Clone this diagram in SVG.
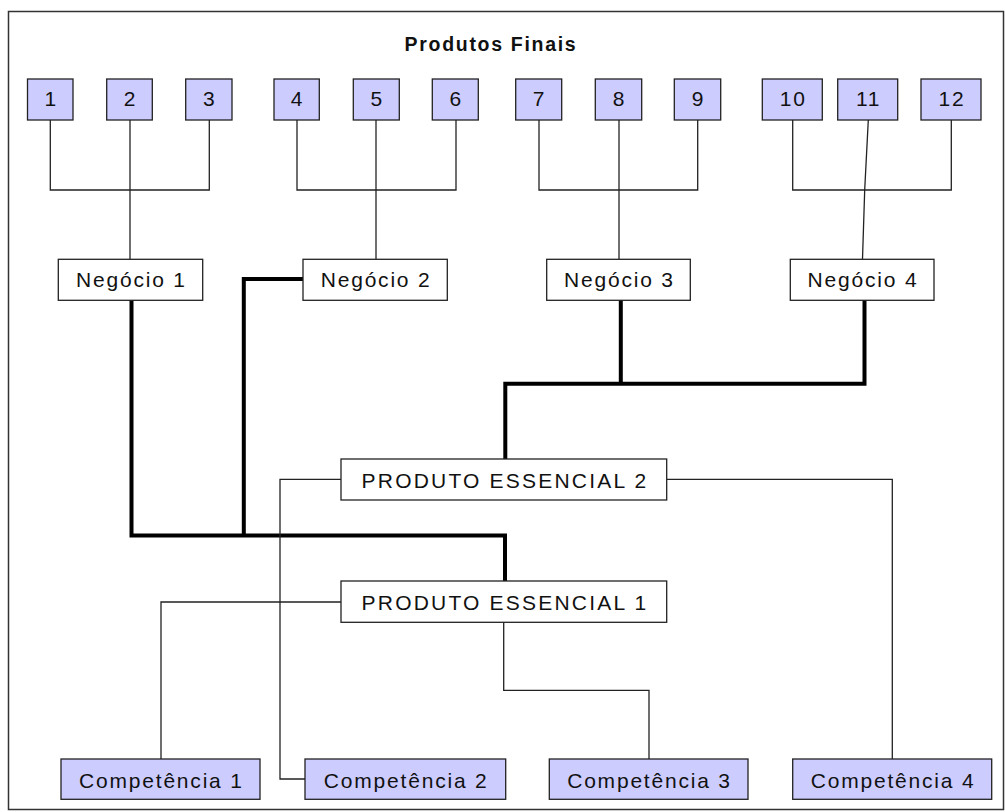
<svg xmlns="http://www.w3.org/2000/svg" width="1005" height="812" viewBox="0 0 1005 812">
  <style>
    .frame { fill: #ffffff; stroke: #333333; stroke-width: 1.5; }
    .prod rect { fill: #ccccff; stroke: #222222; stroke-width: 1.3; }
    .white rect { fill: #ffffff; stroke: #222222; stroke-width: 1.3; }
    .comp rect { fill: #ccccff; stroke: #222222; stroke-width: 1.3; }
    text { font-family: "Liberation Sans", Arial, sans-serif; font-size: 21px; fill: #111111; text-anchor: middle; letter-spacing: 1.8px; }
    .title { font-weight: bold; font-size: 19.5px; letter-spacing: 1.7px; }
    .core text { letter-spacing: 2.2px; }
    .thin { fill: none; stroke: #222222; stroke-width: 1.3; }
    .thick { fill: none; stroke: #000000; stroke-width: 4; stroke-linejoin: miter; }
  </style>

  <rect class="frame" x="8.5" y="11.5" width="995" height="798"/>

  <text class="title" x="491" y="51">Produtos Finais</text>

  <!-- connectors -->
  <g id="connectors">
    <!-- final products to businesses -->
    <polyline class="thin" points="50.3,120 50.3,190 209.3,190 209.3,120"/>
    <line class="thin" x1="130" y1="120" x2="130" y2="259"/>
    <polyline class="thin" points="297,120 297,190 456,190 456,120"/>
    <line class="thin" x1="376" y1="120" x2="376" y2="259"/>
    <polyline class="thin" points="539,120 539,190 697.7,190 697.7,120"/>
    <line class="thin" x1="619" y1="120" x2="619" y2="259"/>
    <polyline class="thin" points="792.7,120 792.7,190 951.3,190 951.3,120"/>
    <polyline class="thin" points="868.3,120 864.7,190 862.5,259"/>

    <!-- businesses to core products -->
    <polyline class="thick" points="131.5,300 131.5,535.5 505,535.5 505,581"/>
    <polyline class="thick" points="303,279 243.8,279 243.8,535.5"/>
    <polyline class="thick" points="620.8,300 620.8,383.7"/>
    <polyline class="thick" points="864.5,300 864.5,383.7 505.3,383.7 505.3,459"/>

    <!-- core products to competences -->
    <polyline class="thin" points="341,479.3 280,479.3 280,779 305,779"/>
    <polyline class="thin" points="666.7,479.3 892.3,479.3 892.3,759"/>
    <polyline class="thin" points="341,602 161,602 161,759"/>
    <polyline class="thin" points="503.7,622.3 503.7,690.3 649,690.3 649,759"/>
  </g>

  <!-- final products -->
  <g id="p1" class="prod"><rect x="27.5" y="79" width="45.5" height="41"/><text x="51.2" y="106">1</text></g>
  <g id="p2" class="prod"><rect x="106.7" y="79" width="45.6" height="41"/><text x="130.4" y="106">2</text></g>
  <g id="p3" class="prod"><rect x="185.7" y="79" width="46.3" height="41"/><text x="209.7" y="106">3</text></g>
  <g id="p4" class="prod"><rect x="274" y="79" width="45.3" height="41"/><text x="297.5" y="106">4</text></g>
  <g id="p5" class="prod"><rect x="353.3" y="79" width="46" height="41"/><text x="377.2" y="106">5</text></g>
  <g id="p6" class="prod"><rect x="432.3" y="79" width="46" height="41"/><text x="456.2" y="106">6</text></g>
  <g id="p7" class="prod"><rect x="515.7" y="79" width="46" height="41"/><text x="539.6" y="106">7</text></g>
  <g id="p8" class="prod"><rect x="595.3" y="79" width="46.4" height="41"/><text x="619.4" y="106">8</text></g>
  <g id="p9" class="prod"><rect x="674.3" y="79" width="46.4" height="41"/><text x="698.4" y="106">9</text></g>
  <g id="p10" class="prod"><rect x="762.3" y="79" width="60" height="41"/><text x="793.2" y="106">10</text></g>
  <g id="p11" class="prod"><rect x="837.7" y="79" width="60" height="41"/><text x="868.6" y="106">11</text></g>
  <g id="p12" class="prod"><rect x="921" y="79" width="60" height="41"/><text x="951.9" y="106">12</text></g>

  <!-- businesses -->
  <g id="negocio1" class="white"><rect x="58.3" y="259.3" width="144.4" height="41"/><text x="131.4" y="287">Negócio 1</text></g>
  <g id="negocio2" class="white"><rect x="303" y="259.3" width="144.3" height="41"/><text x="376.1" y="287">Negócio 2</text></g>
  <g id="negocio3" class="white"><rect x="546.7" y="259.3" width="143.6" height="41"/><text x="619.4" y="287">Negócio 3</text></g>
  <g id="negocio4" class="white"><rect x="790.3" y="259.3" width="143.7" height="41"/><text x="863" y="287">Negócio 4</text></g>

  <!-- core products -->
  <g id="pe2" class="white core"><rect x="341" y="459" width="325.7" height="41"/><text x="505" y="487.5">PRODUTO ESSENCIAL 2</text></g>
  <g id="pe1" class="white core"><rect x="341" y="581" width="325.7" height="41.3"/><text x="505" y="609.5">PRODUTO ESSENCIAL 1</text></g>

  <!-- competences -->
  <g id="comp1" class="comp"><rect x="61" y="759" width="199" height="40.3"/><text x="161.4" y="787.5">Competência 1</text></g>
  <g id="comp2" class="comp"><rect x="305" y="759" width="200.7" height="40.3"/><text x="406.2" y="787.5">Competência 2</text></g>
  <g id="comp3" class="comp"><rect x="549.3" y="759" width="198.7" height="40.3"/><text x="649.5" y="787.5">Competência 3</text></g>
  <g id="comp4" class="comp"><rect x="792.7" y="759" width="199" height="40.3"/><text x="893.1" y="787.5">Competência 4</text></g>
</svg>
